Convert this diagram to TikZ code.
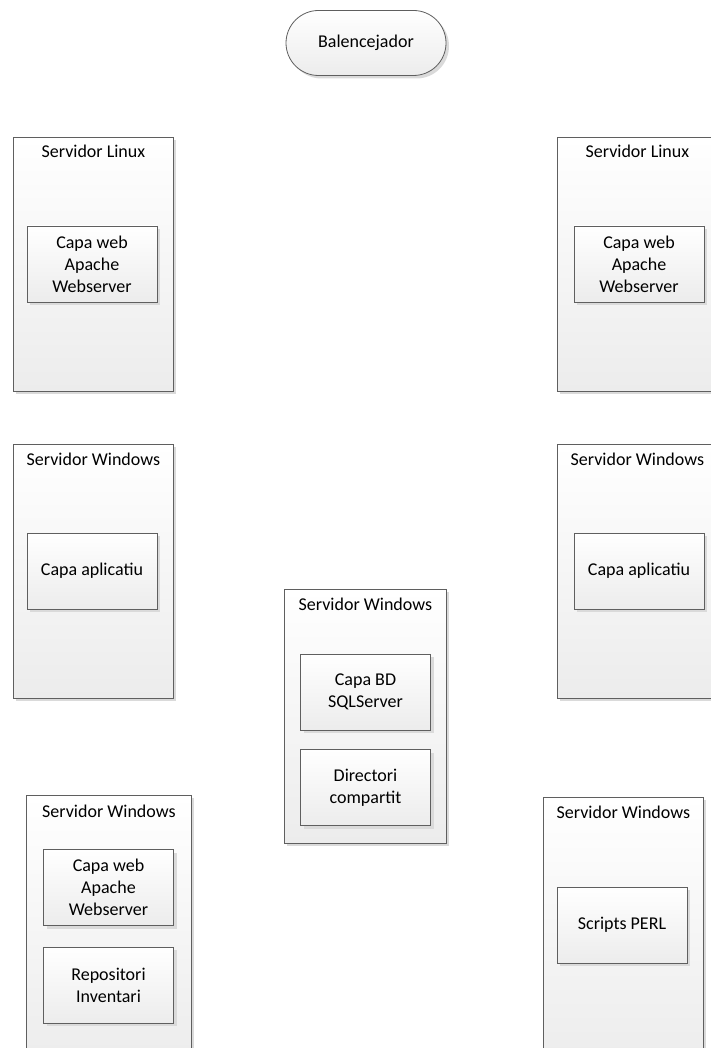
\documentclass[tikz,border=0pt]{standalone}
\usepackage{fontspec}
\setmainfont{Carlito}
\usetikzlibrary{shapes.misc,shadows,positioning}
\definecolor{boxline}{RGB}{95,95,95}
\definecolor{boxfoot}{RGB}{236,236,236}
\definecolor{boxshade}{RGB}{218,218,218}

\tikzset{
  plainbox/.style={draw=boxline, line width=0.8pt, top color=white, bottom color=boxfoot,
    drop shadow={shadow xshift=3pt, shadow yshift=-3pt, fill=boxshade, opacity=1},
    inner sep=0pt, font=\fontsize{18}{22}\selectfont},
  balbox/.style={plainbox, rounded rectangle, minimum width=160pt, minimum height=65pt},
  srvbox/.style={plainbox, anchor=north west, minimum width=160pt, minimum height=254pt},
  srvtitle/.style={inner sep=0pt, text height=12pt, text depth=3pt, font=\fontsize{18}{22}\selectfont},
  layerbox/.style={plainbox, align=center, minimum width=130pt, minimum height=76pt},
}

\begin{document}
\begin{tikzpicture}[x=1pt,y=-1pt]
  \useasboundingbox (0,0) rectangle (710,1048);

  % load balancer
  \node[balbox] (bal) at (366,43) {Balencejador};

  % web layer (linux)
  \node[srvbox] (linA) at (13,137) {};
  \node[srvtitle] (linAtitle) at ([yshift=-16pt]linA.north) {Servidor Linux};
  \node[layerbox] (linAweb) at (92,264) {Capa web\\Apache\\Webserver};

  \node[srvbox] (linB) at (557,137) {};
  \node[srvtitle] (linBtitle) at ([yshift=-16pt]linB.north) {Servidor Linux};
  \node[layerbox] (linBweb) at (639,264) {Capa web\\Apache\\Webserver};

  % application layer
  \node[srvbox] (appA) at (13,444) {};
  \node[srvtitle] (appAtitle) at ([yshift=-17pt]appA.north) {Servidor Windows};
  \node[layerbox] (appAcapa) at (92,571) {Capa aplicatiu};

  \node[srvbox] (appB) at (557,444) {};
  \node[srvtitle] (appBtitle) at ([yshift=-17pt]appB.north) {Servidor Windows};
  \node[layerbox] (appBcapa) at (639,571) {Capa aplicatiu};

  % database
  \node[srvbox, minimum width=162pt] (db) at (284,589) {};
  \node[srvtitle] (dbtitle) at ([yshift=-17pt]db.north) {Servidor Windows};
  \node[layerbox] (dbsql) at (365.5,692) {Capa BD\\SQLServer};
  \node[layerbox] (dbdir) at (365.5,787.5) {Directori\\compartit};

  % repository / scripts
  \node[srvbox, minimum width=165pt, minimum height=270pt] (repo) at (26,795) {};
  \node[srvtitle] (repotitle) at ([yshift=-18pt]repo.north) {Servidor Windows};
  \node[layerbox] (repoweb) at (108.5,887.5) {Capa web\\Apache\\Webserver};
  \node[layerbox] (repoinv) at (108.5,985) {Repositori\\Inventari};

  \node[srvbox, minimum height=270pt] (scr) at (543,797) {};
  \node[srvtitle] (scrtitle) at ([yshift=-17pt]scr.north) {Servidor Windows};
  \node[layerbox] (scrperl) at (622,925) {Scripts PERL};
\end{tikzpicture}
\end{document}
